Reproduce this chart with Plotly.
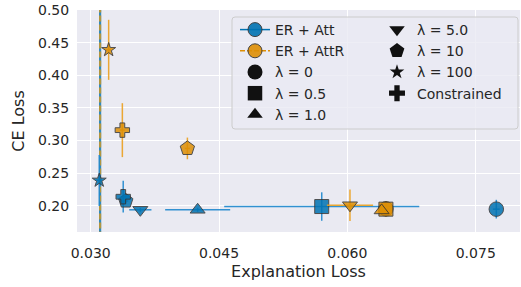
import plotly.graph_objects as go

# ---------------- data ----------------
lambda_labels = ["λ = 0", "λ = 0.5", "λ = 1.0", "λ = 5.0", "λ = 10", "λ = 100", "Constrained"]
symbols = ["circle", "square", "triangle-up", "triangle-down", "pentagon", "star", "cross"]

att_x = [0.0774, 0.0570, 0.0425, 0.0358, 0.0341, 0.0310, 0.0338]
att_y = [0.195, 0.199, 0.194, 0.194, 0.2075, 0.239, 0.214]
att_x_err = [0.0004, 0.0114, 0.0038, 0.0013, 0.0003, 0.0003, 0.0003]
att_y_err = [0.0143, 0.0218, 0.003, 0.003, 0.004, 0.039, 0.0243]

attr_x = [0.0645, 0.0645, 0.0640, 0.0603, 0.0413, 0.0321, 0.0337]
attr_y = [0.1955, 0.195, 0.193, 0.201, 0.288, 0.439, 0.316]
attr_x_err = [0.0004, 0.0004, 0.0004, 0.0027, 0.0003, 0.0003, 0.0003]
attr_y_err = [0.012, 0.006, 0.006, 0.024, 0.0166, 0.046, 0.0413]

vline_att_x = 0.0311
vline_attr_x = 0.0311

x_ticks = [0.030, 0.045, 0.060, 0.075]
x_tick_text = ["0.030", "0.045", "0.060", "0.075"]
y_ticks = [0.20, 0.25, 0.30, 0.35, 0.40, 0.45, 0.50]
y_tick_text = ["0.20", "0.25", "0.30", "0.35", "0.40", "0.45", "0.50"]

# ---------------- styles ----------------
BLUE = "#0173b2"
ORANGE = "#de8f05"
BLUE_A = "rgba(1,115,178,0.8)"
TEXT = "#262626"
FONT = "DejaVu Sans"
data_sizes = [14.5, 14, 13, 13, 15, 10.5, 12]
legend_sizes = [15, 14.5, 13.5, 13.5, 15.5, 11, 13.3]

fig = go.Figure()

# vertical lines
fig.add_trace(go.Scatter(x=[vline_att_x, vline_att_x], y=[0.0, 1.0], mode="lines",
                         line=dict(color=BLUE_A, width=2.2), showlegend=False, hoverinfo="skip"))
fig.add_trace(go.Scatter(x=[vline_attr_x, vline_attr_x], y=[0.0, 1.0], mode="lines",
                         line=dict(color="rgba(200,150,40,0.85)", width=2.2, dash="6px,3px"),
                         showlegend=False, hoverinfo="skip"))

def data_trace(xs, ys, exs, eys, color, ecolor):
    return go.Scatter(
        x=xs, y=ys, mode="markers", showlegend=False, hoverinfo="skip",
        error_x=dict(type="data", array=exs, visible=True, thickness=1.5, width=0, color=ecolor),
        error_y=dict(type="data", array=eys, visible=True, thickness=1.5, width=0, color=ecolor),
        marker=dict(symbol=symbols, size=data_sizes, color=color, opacity=0.85,
                    line=dict(color="#333333", width=1)),
    )

fig.add_trace(data_trace(att_x, att_y, att_x_err, att_y_err, BLUE, "rgba(30,135,205,0.9)"))
fig.add_trace(data_trace(attr_x, attr_y, attr_x_err, attr_y_err, ORANGE, "rgba(235,160,30,0.9)"))

# legend entries
fig.add_trace(go.Scatter(x=[None], y=[None], mode="lines+markers", name="ER + Att", legend="legend",
                         line=dict(color=BLUE, width=1.5),
                         marker=dict(symbol="circle", size=14, color=BLUE, opacity=0.9,
                                     line=dict(color="#333333", width=1))))
fig.add_trace(go.Scatter(x=[None], y=[None], mode="lines+markers", name="ER + AttR", legend="legend",
                         line=dict(color=ORANGE, width=1.5, dash="5px,2px"),
                         marker=dict(symbol="circle", size=14, color=ORANGE, opacity=0.9,
                                     line=dict(color="#333333", width=1))))
for i, lab in enumerate(lambda_labels):
    fig.add_trace(go.Scatter(x=[None], y=[None], mode="markers", name=lab,
                             legend="legend" if i < 3 else "legend2",
                             marker=dict(symbol=symbols[i], size=legend_sizes[i], color="#111111")))

L, R, T, B = 77, 1, 10, 55
W, H = 521, 287
pw = W - L - R
ph = H - T - B

def px(xp):
    return (xp - L) / pw

def py(yp):
    return 1 - (yp - T) / ph

# legend box
x0, x1, y0, y1 = px(232), px(518), py(129), py(17)
rx, ry = 3 / pw, 3 / ph
path = (f"M{x0+rx},{y1} L{x1-rx},{y1} Q{x1},{y1} {x1},{y1-ry} L{x1},{y0+ry} "
        f"Q{x1},{y0} {x1-rx},{y0} L{x0+rx},{y0} Q{x0},{y0} {x0},{y0+ry} "
        f"L{x0},{y1-ry} Q{x0},{y1} {x0+rx},{y1} Z")
fig.add_shape(type="path", path=path, xref="paper", yref="paper", layer="above",
              fillcolor="rgba(234,234,242,0.8)", line=dict(color="#cccccc", width=1))

legend_common = dict(bgcolor="rgba(0,0,0,0)", borderwidth=0, font=dict(family=FONT, size=14, color=TEXT),
                     xanchor="left", yanchor="top", orientation="v", itemclick=False)

fig.update_layout(
    width=W, height=H,
    margin=dict(l=L, r=R, t=T, b=B, autoexpand=False),
    paper_bgcolor="white", plot_bgcolor="#eaeaf2",
    font=dict(family=FONT, size=14, color=TEXT),
    hovermode=False,
    legend=dict(x=px(235), y=py(14), **legend_common),
    legend2=dict(x=px(377), y=py(14), **legend_common),
    xaxis=dict(range=[0.0284, 0.08017], tickvals=x_ticks, ticktext=x_tick_text,
               showgrid=True, gridcolor="white", gridwidth=1.3, zeroline=False, showline=False,
               ticks="outside", ticklen=8, tickcolor="rgba(0,0,0,0)",
               tickfont=dict(family=FONT, size=14, color=TEXT),
               title=dict(text="Explanation Loss", font=dict(family=FONT, size=16, color=TEXT), standoff=6),
               automargin=False),
    yaxis=dict(range=[0.16, 0.50], tickvals=y_ticks, ticktext=y_tick_text,
               showgrid=True, gridcolor="white", gridwidth=1.3, zeroline=False, showline=False,
               ticks="outside", ticklen=4, tickcolor="rgba(0,0,0,0)",
               tickfont=dict(family=FONT, size=14, color=TEXT),
               title=dict(text="CE Loss", font=dict(family=FONT, size=16, color=TEXT), standoff=9),
               automargin=False),
)

fig.write_html("out.html", config={"displayModeBar": False},
               post_script="document.body.style.margin='0';document.body.style.overflow='hidden';")
